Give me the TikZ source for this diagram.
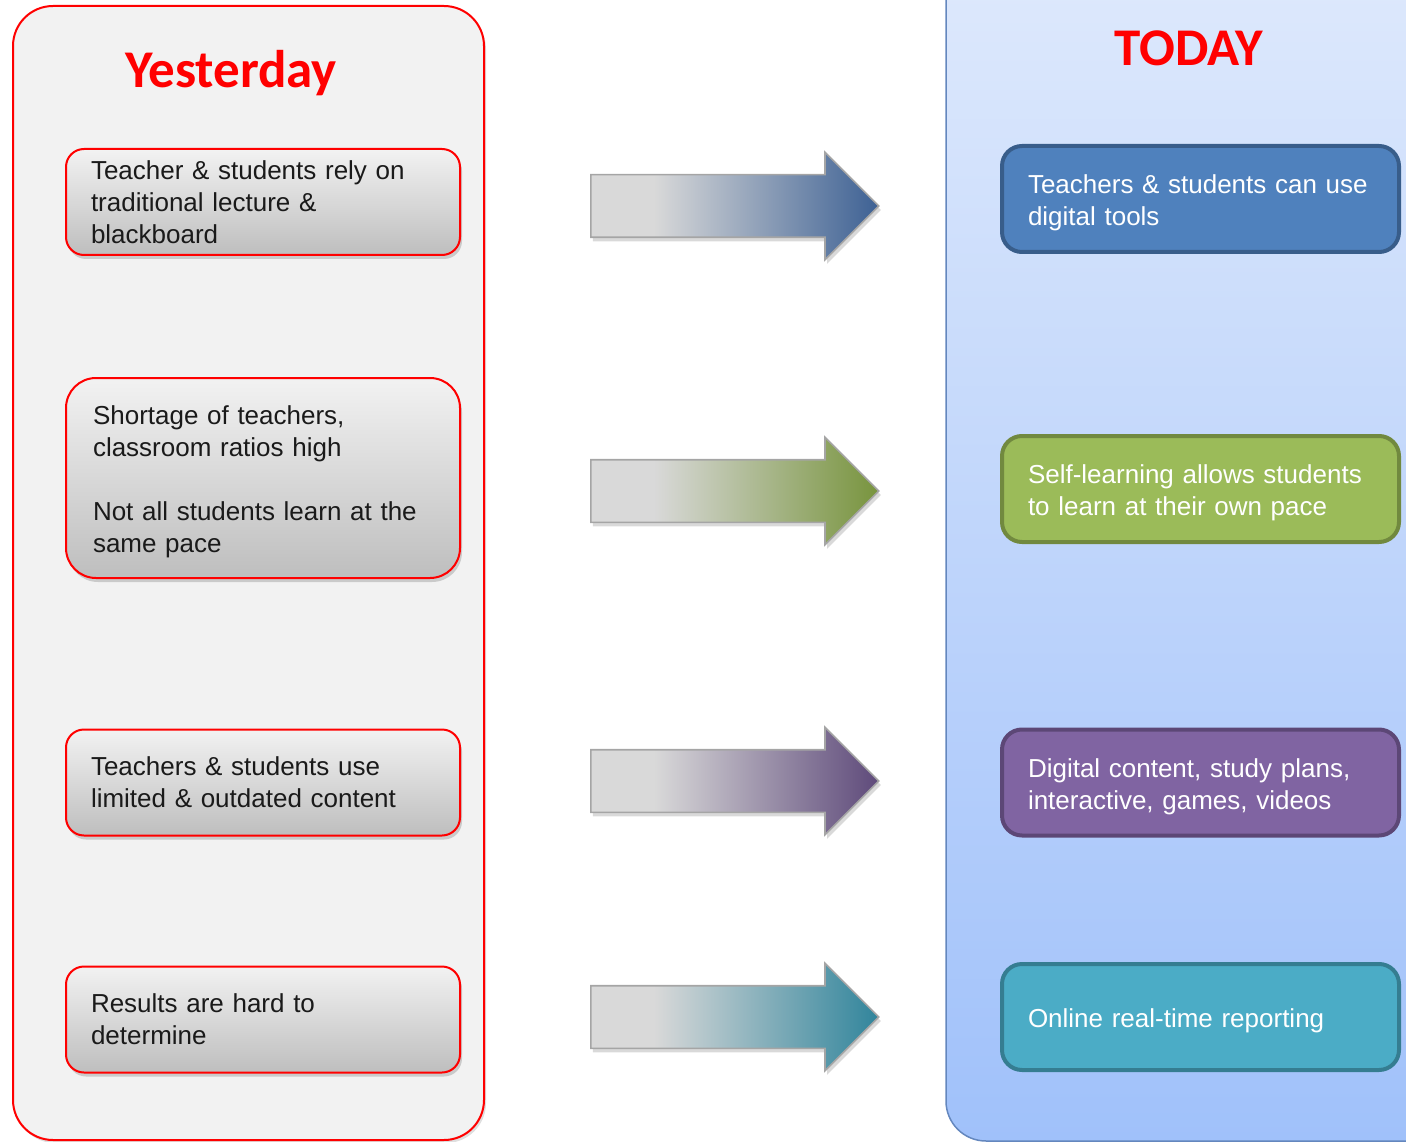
\documentclass[tikz,border=0pt]{standalone}
\usepackage{fontspec}
\setmainfont{Liberation Sans}
\newfontfamily\titlefont{Carlito}
\usetikzlibrary{shapes.arrows,shadows}
\definecolor{panelgray}{RGB}{242,242,242}
\definecolor{textdark}{RGB}{26,26,26}
\definecolor{rtop}{RGB}{222,233,252}
\definecolor{rbot}{RGB}{160,193,250}
\definecolor{rborder}{RGB}{100,135,190}
\definecolor{bluefill}{RGB}{79,129,189}
\definecolor{blueline}{RGB}{56,93,138}
\definecolor{greenfill}{RGB}{155,187,89}
\definecolor{greenline}{RGB}{113,137,63}
\definecolor{purplefill}{RGB}{128,100,162}
\definecolor{purpleline}{RGB}{92,71,118}
\definecolor{tealfill}{RGB}{75,172,198}
\definecolor{tealline}{RGB}{53,125,145}
\definecolor{arrowline}{RGB}{165,165,165}
\pgfdeclarehorizontalshading{shblue}{100bp}{rgb(0bp)=(0.85,0.85,0.85); rgb(36bp)=(0.85,0.85,0.85); rgb(75bp)=(0.24,0.38,0.58); rgb(100bp)=(0.24,0.38,0.58)}
\pgfdeclarehorizontalshading{shgreen}{100bp}{rgb(0bp)=(0.85,0.85,0.85); rgb(36bp)=(0.85,0.85,0.85); rgb(75bp)=(0.47,0.58,0.24); rgb(100bp)=(0.47,0.58,0.24)}
\pgfdeclarehorizontalshading{shpurple}{100bp}{rgb(0bp)=(0.85,0.85,0.85); rgb(36bp)=(0.85,0.85,0.85); rgb(75bp)=(0.37,0.29,0.48); rgb(100bp)=(0.37,0.29,0.48)}
\pgfdeclarehorizontalshading{shteal}{100bp}{rgb(0bp)=(0.85,0.85,0.85); rgb(36bp)=(0.85,0.85,0.85); rgb(75bp)=(0.19,0.52,0.61); rgb(100bp)=(0.19,0.52,0.61)}
\newcommand{\lowstrut}{\rule{0pt}{27pt}}
\begin{document}
\begin{tikzpicture}[x=1pt,y=-1pt,
  leftpanel/.style={draw=red, line width=2pt, fill=panelgray, rounded corners=40pt,
    inner sep=0pt, drop shadow={opacity=0.25, shadow xshift=2pt, shadow yshift=-3pt}},
  rightpanel/.style={draw=rborder, line width=1.5pt, top color=rtop, bottom color=rbot,
    rounded corners=40pt, inner sep=0pt},
  titletext/.style={font=\titlefont\bfseries\fontsize{53}{60}\selectfont, text=red, inner sep=0pt},
  lbox/.style={draw=red, line width=2pt, rounded corners=18pt, top color=panelgray,
    bottom color={rgb,255:red,190;green,190;blue,190}, text width=344pt, inner xsep=25pt, inner ysep=0pt,
    minimum height=106pt, align=left, font=\fontsize{26}{32}\selectfont, text=textdark,
    drop shadow={opacity=0.35, shadow xshift=2pt, shadow yshift=-4pt}},
  rbox/.style={line width=4pt, rounded corners=20pt, text width=345pt, inner xsep=26pt,
    inner ysep=0pt, minimum height=106pt, align=left, font=\fontsize{26}{32}\selectfont, text=white},
  bigarrow/.style={single arrow, draw=arrowline, line width=1.6pt, minimum height=288pt,
    minimum width=106pt, single arrow head extend=22.5pt, single arrow tip angle=90,
    inner xsep=0pt, inner ysep=30.5pt, text height=0pt, text depth=0pt, shading angle=0,
    anchor=west, drop shadow={opacity=0.3, shadow xshift=2pt, shadow yshift=-4pt}}
]
\useasboundingbox (0,0) rectangle (1406,1142);
\clip (0,0) rectangle (1406,1142);
% panels
\node[leftpanel, minimum width=471pt, minimum height=1134pt] (lp) at (248.5,573) {};
\node[rightpanel, minimum width=540pt, minimum height=1185pt] (rp) at (1216,548.5) {};
% titles
\node[titletext, anchor=base] (ty) at (231,88) {Yesterday};
\node[titletext, anchor=base] (tt) at (1189,66) {TODAY};
% left boxes
\node[lbox] (l1) at (263,202) {Teacher \& students rely on\\traditional lecture \&\\blackboard};
\node[lbox, minimum height=200pt, rounded corners=30pt, text width=340pt, inner xsep=27pt] (l2) at (263,478)
  {\lowstrut Shortage of teachers,\\classroom ratios high\\[32pt]Not all students learn at the\\same pace};
\node[lbox] (l3) at (263,782.5) {Teachers \& students use\\limited \& outdated content};
\node[lbox] (l4) at (263,1019.5) {Results are hard to\\determine};
% right boxes
\node[rbox, draw=blueline, fill=bluefill] (r1) at (1200.5,199) {\lowstrut Teachers \& students can use\\digital tools};
\node[rbox, draw=greenline, fill=greenfill] (r2) at (1200.5,489) {\lowstrut Self-learning allows students\\to learn at their own pace};
\node[rbox, draw=purpleline, fill=purplefill] (r3) at (1200.5,782.5) {\lowstrut Digital content, study plans,\\interactive, games, videos};
\node[rbox, draw=tealline, fill=tealfill] (r4) at (1200.5,1017) {\lowstrut Online real-time reporting};
% arrows
\node[bigarrow, shading=shblue] (a1) at (590,206) {};
\node[bigarrow, shading=shgreen] (a2) at (590,491) {};
\node[bigarrow, shading=shpurple] (a3) at (590,781) {};
\node[bigarrow, shading=shteal] (a4) at (590,1017) {};
\end{tikzpicture}
\end{document}
